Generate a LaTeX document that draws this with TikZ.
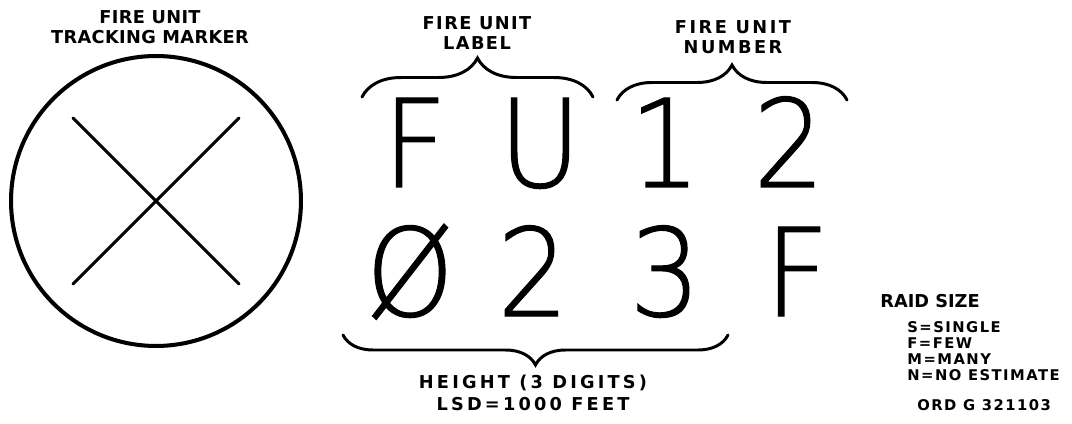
\documentclass[tikz,border=0pt]{standalone}
\usepackage{fontspec}
\setmainfont{DejaVu Sans}
\newfontfamily\plotfont[FakeStretch=0.92, FakeBold=0.9]{DejaVuSans-ExtraLight.ttf}
\usetikzlibrary{positioning,calc,decorations.pathreplacing}

\begin{document}
\begin{tikzpicture}[x=0.02cm, y=0.02cm,
  every node/.style={inner sep=0pt},
  tag/.style   ={align=center, font=\bfseries\fontsize{10.1}{11.4}\selectfont\addfontfeatures{LetterSpace=#1}},
  tag/.default=0,
  legend/.style={align=left, anchor=north west, font=\bfseries\fontsize{8.4}{9.1}\selectfont\addfontfeatures{LetterSpace=10}},
  glyph/.style ={anchor=base, font=\plotfont\fontsize{69.5}{70}\selectfont},
  marker/.style={circle, draw, line width=2.3pt, minimum size=5.8cm},
  stroke/.style={line width=1.7pt, line cap=round},
  bracket/.style={decorate, decoration={brace, amplitude=#1}, line width=1.7pt, line cap=round},
  bracket/.default=0.7cm]
\useasboundingbox (0,0) rectangle (1072,423);
% tracking marker
\node[marker] (track) at (156,222) {};
\draw[stroke] ($(track.center)!0.8!(track.135)$) -- ($(track.center)!0.8!(track.-45)$);
\draw[stroke] ($(track.center)!0.8!(track.45)$) -- ($(track.center)!0.8!(track.-135)$);
\node[tag=2] (tracktxt) at (150,396) {FIRE UNIT\\TRACKING MARKER};
% display characters
\node[glyph] (labF) at (415,236) {F};
\node[glyph] (labU) at (540,236) {U};
\node[glyph] (num1) at (665,236) {1};
\node[glyph] (num2) at (789,236) {2};
\node[glyph] (hgt1) at (410,107) {Ø};
\node[glyph] (hgt2) at (533,107) {2};
\node[glyph] (hgt3) at (665,107) {3};
\node[glyph] (raid) at (797,107) {F};
% braces
\coordinate (lblL) at (362,326); \coordinate (lblR) at (593,326);
\coordinate (numL) at (617,323); \coordinate (numR) at (847,323);
\coordinate (hgtR) at (728,88);  \coordinate (hgtL) at (343,88);
\draw[bracket=0.78cm] (lblL) -- (lblR);
\draw[bracket] (numL) -- (numR);
\draw[bracket=0.6cm] (hgtR) -- (hgtL);
\node[tag=8] (lbltxt) at (477,390) {FIRE UNIT\\LABEL};
\node[tag=14] (numtxt) at (733,386) {FIRE UNIT\\NUMBER};
\node[font=\bfseries\fontsize{10.1}{12.5}\selectfont\addfontfeatures{LetterSpace=18}, align=center] (hgttxt) at (533,30) {HEIGHT (3 DIGITS)\\LSD=1000 FEET};
% raid size key
\node[tag, anchor=west] (raidhdr) at (880,122) {RAID SIZE};
\node[legend] (raidkey) at (907,102) {S=SINGLE\\F=FEW\\M=MANY\\N=NO ESTIMATE};
\node[legend, anchor=west] (ordno) at (917,18) {ORD G 321103};
\end{tikzpicture}
\end{document}
